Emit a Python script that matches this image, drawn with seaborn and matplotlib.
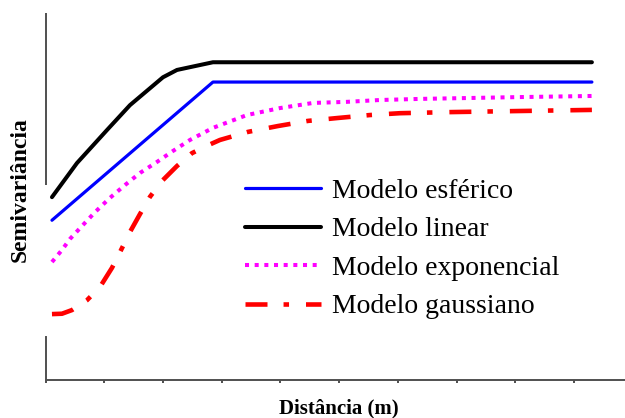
import matplotlib
matplotlib.use("Agg")
import matplotlib.pyplot as plt
import seaborn as sns
import pandas as pd

# Semivariogram model curves (distance in lag units, semivariance in arbitrary units)
esferico_x = [0.107, 2.850, 9.306]
esferico_y = [4.35, 8.12, 8.12]

linear_x = [0.107, 0.533, 1.044, 1.436, 1.998, 2.237, 2.850, 9.306]
linear_y = [4.98, 5.91, 6.81, 7.49, 8.25, 8.45, 8.66, 8.66]

exponencial_x = [0.107, 0.278, 0.414, 0.635, 0.840, 1.095, 1.351, 1.607, 1.896,
                 2.169, 2.458, 2.850, 3.429, 3.991, 4.554, 5.133, 5.695, 6.376,
                 8.079, 9.306]
exponencial_y = [3.21, 3.54, 3.84, 4.22, 4.57, 4.96, 5.31, 5.64, 5.94,
                 6.24, 6.54, 6.87, 7.22, 7.41, 7.55, 7.58, 7.63, 7.66,
                 7.71, 7.74]

gaussiano_x = [0.107, 0.278, 0.448, 0.704, 0.925, 1.129, 1.266, 1.436, 1.607,
               1.777, 1.981, 2.237, 2.492, 2.731, 2.969, 3.446, 3.957, 4.468,
               4.980, 5.525, 6.036, 6.888, 8.080, 9.306]
gaussiano_y = [1.79, 1.80, 1.90, 2.17, 2.53, 3.05, 3.48, 4.03, 4.52,
               4.99, 5.42, 5.83, 6.18, 6.37, 6.54, 6.76, 6.92, 7.06,
               7.14, 7.22, 7.27, 7.30, 7.33, 7.36]

labels = ["Modelo esférico", "Modelo linear", "Modelo exponencial", "Modelo gaussiano"]
x_ticks = list(range(10))

sns.set_theme(style="white")
plt.rcParams["font.family"] = ["Liberation Serif", "DejaVu Serif"]
plt.rcParams["text.color"] = "black"

fig = plt.figure(figsize=(6.25, 4.18), dpi=100)
ax = fig.add_axes([0.0731, 0.0916, 0.9269, 0.877])

series = [
    (esferico_x, esferico_y, labels[0], "#0000ff", 2.3, "-"),
    (linear_x, linear_y, labels[1], "#000000", 2.9, "-"),
    (exponencial_x, exponencial_y, labels[2], "#ff00ff", 2.9, (0, (1.0, 1.4))),
    (gaussiano_x, gaussiano_y, labels[3], "#ff0000", 3.3, (0, (4.8, 3.5, 1.2, 3.7))),
]

for xs, ys, lab, col, lw, ls in series:
    df = pd.DataFrame({"dist": xs, "semiv": ys})
    sns.lineplot(data=df, x="dist", y="semiv", ax=ax, color=col, linewidth=lw,
                 linestyle=ls, label=lab, sort=False, estimator=None)

ax.set_xlim(0, 9.87)
ax.set_ylim(0, 10)
ax.set_xticks(x_ticks)
ax.set_xticklabels([])
ax.set_yticks([])
ax.set_xlabel("")
ax.set_ylabel("")

for side in ["top", "right"]:
    ax.spines[side].set_visible(False)
axis_col = "#505050"
ax.spines["bottom"].set_color(axis_col)
ax.spines["bottom"].set_linewidth(1.4)
ax.spines["left"].set_color(axis_col)
ax.spines["left"].set_linewidth(1.4)
# The vertical axis is drawn in two pieces, interrupted in the middle
ax.spines["left"].set_bounds(0, 1.16)
ax.plot([0, 0], [5.31, 10], color=axis_col, lw=1.4, clip_on=False,
        solid_capstyle="butt")

ax.tick_params(axis="x", direction="out", length=2.5, width=1.2,
               color="#303030", bottom=True)

leg = ax.legend(loc="upper left", bbox_to_anchor=(245 / 625, 1 - 178.5 / 418),
                bbox_transform=fig.transFigure, frameon=False, fontsize=20,
                handlelength=2.73, handletextpad=0.4, labelspacing=0.47,
                borderpad=0, borderaxespad=0)
for t in leg.get_texts():
    t.set_color("black")

fig.text(339 / 625, 1 - 408 / 418, "Distância (m)", ha="center", va="center",
         fontsize=15, fontweight="bold", color="black")
fig.text(20 / 625, 1 - 190 / 418, "Semivariância", ha="center", va="center",
         rotation=90, fontsize=17, fontweight="bold", color="black")

fig.savefig("out.png", dpi=100)
